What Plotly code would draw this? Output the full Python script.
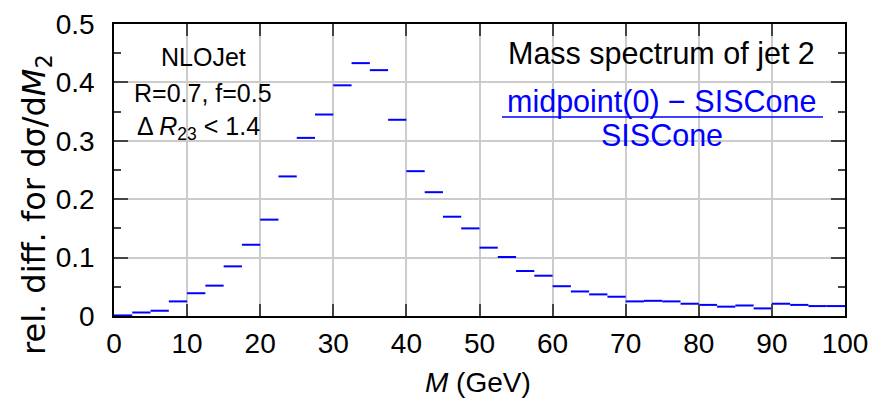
import plotly.graph_objects as go

# ---- data ----
bin_width = 2.5
mass_bin_low = [0, 2.5, 5, 7.5, 10, 12.5, 15, 17.5, 20, 22.5,
                25, 27.5, 30, 32.5, 35, 37.5, 40, 42.5, 45, 47.5,
                50, 52.5, 55, 57.5, 60, 62.5, 65, 67.5, 70, 72.5,
                75, 77.5, 80, 82.5, 85, 87.5, 90, 92.5, 95, 97.5]
rel_diff = [0.001, 0.006, 0.009, 0.025, 0.039, 0.052, 0.085, 0.122, 0.165, 0.239,
            0.305, 0.345, 0.395, 0.433, 0.421, 0.336, 0.248, 0.212, 0.170, 0.150,
            0.117, 0.101, 0.077, 0.069, 0.051, 0.042, 0.037, 0.033, 0.025, 0.026,
            0.025, 0.021, 0.019, 0.016, 0.018, 0.013, 0.021, 0.019, 0.017, 0.017]
x_ticks = [0, 10, 20, 30, 40, 50, 60, 70, 80, 90, 100]
y_ticks = [0, 0.1, 0.2, 0.3, 0.4, 0.5]
y_tick_text = ["0", "0.1", "0.2", "0.3", "0.4", "0.5"]

# build horizontal bin segments
xs, ys = [], []
for lo, v in zip(mass_bin_low, rel_diff):
    xs += [lo, lo + bin_width, None]
    ys += [v, v, None]

FONT = "Liberation Sans, Arial, Helvetica, sans-serif"
BLUE = "#0000ff"

fig = go.Figure()
fig.add_trace(go.Scatter(x=xs, y=ys, mode="lines",
                         line=dict(color=BLUE, width=2),
                         showlegend=False, hoverinfo="skip"))

W, H = 872, 399
L, R, T, B = 114, 27, 24, 83

axis_common = dict(showline=True, linecolor="black", linewidth=1.5, mirror="ticks",
                   ticks="inside", tickcolor="#444444", tickwidth=1.5,
                   showgrid=True, gridcolor="#cccccc", gridwidth=1.5,
                   zeroline=False, automargin=False,
                   tickfont=dict(family=FONT, size=28, color="black"))

fig.update_xaxes(range=[0, 100], tickvals=x_ticks, ticklen=12,
                 ticklabelstandoff=2, **axis_common)
fig.update_yaxes(range=[0, 0.5], tickvals=y_ticks, ticktext=y_tick_text, ticklen=14,
                 ticklabelstandoff=12,
                 minor=dict(dtick=0.05, ticks="inside", ticklen=7,
                            tickcolor="#444444", tickwidth=1.5, showgrid=False),
                 **axis_common)

pw, ph = W - L - R, H - T - B
def px(x):
    return (x - L) / pw
def py(y):
    return (H - B - y) / ph

shapes = [
    dict(type="rect", xref="paper", yref="paper", layer="between",
         x0=px(122), x1=px(295), y0=py(108), y1=py(24),
         fillcolor="white", line=dict(width=0)),
    dict(type="rect", xref="paper", yref="paper", layer="between",
         x0=px(150), x1=px(297), y0=py(147), y1=py(108),
         fillcolor="white", line=dict(width=0)),
    dict(type="rect", xref="paper", yref="paper", layer="between",
         x0=px(494), x1=px(845), y0=py(159), y1=py(24),
         fillcolor="white", line=dict(width=0)),
    dict(type="line", xref="paper", yref="paper", layer="above",
         x0=px(502), x1=px(823), y0=py(117), y1=py(117),
         line=dict(color=BLUE, width=1.5)),
]

def ann(text, x, y, size, color="black", family=FONT, angle=0):
    return dict(text=text, x=px(x), y=py(y), xref="paper", yref="paper",
                xanchor="center", yanchor="middle", showarrow=False,
                textangle=angle, font=dict(family=family, size=size, color=color))

annotations = [
    ann("NLOJet", 203, 57, 25),
    ann("R=0.7, f=0.5", 203, 93, 25),
    ann("Δ <i>R</i><sub>23</sub> &lt; 1.4", 198, 128, 25),
    ann("Mass spectrum of jet 2", 661, 54, 30.5),
    ann("midpoint(0) − SISCone", 661, 102, 30.5, color=BLUE),
    ann("SISCone", 662, 135, 30.5, color=BLUE),
    ann("<i>M</i> (GeV)", 478, 382, 28),
    ann("rel. diff. for dσ/d<i>M</i><sub>2</sub>", 36, 205, 32,
        family="DejaVu Sans, sans-serif", angle=-90),
]

fig.update_layout(template="none", width=W, height=H,
                  margin=dict(l=L, r=R, t=T, b=B, autoexpand=False),
                  paper_bgcolor="white", plot_bgcolor="white",
                  shapes=shapes, annotations=annotations, showlegend=False,
                  font=dict(family=FONT, color="black"))

fig.write_html("out.html", config={"displayModeBar": False},
               post_script="document.body.style.margin='0';document.body.style.overflow='hidden';")
